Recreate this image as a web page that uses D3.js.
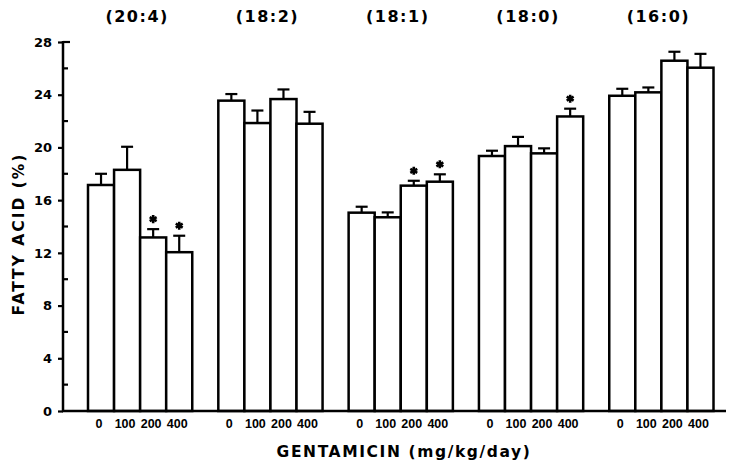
<!DOCTYPE html>
<html>
<head>
<meta charset="utf-8">
<script src="https://cdn.jsdelivr.net/npm/d3@7"></script>
<style>
  body { margin: 0; background: #fff; }
  svg text { font-family: "DejaVu Sans", "Liberation Sans", sans-serif; font-weight: bold; fill: #000; }
</style>
</head>
<body>
<div class="myData"></div>
<script>
// fatty acid groups and gentamicin doses
var groups = ['(20:4)', '(18:2)', '(18:1)', '(18:0)', '(16:0)'];
var doses = ['0', '100', '200', '400'];
// mean % per group, one value per dose
var means = [
  [17.15, 18.3, 13.17, 12.05],
  [23.55, 21.85, 23.67, 21.8],
  [15.05, 14.7, 17.1, 17.4],
  [19.35, 20.1, 19.55, 22.35],
  [23.92, 24.18, 26.58, 26.05]
];
// upper error bar value
var errTop = [
  [18.0, 20.05, 13.8, 13.3],
  [24.05, 22.8, 24.4, 22.7],
  [15.5, 15.07, 17.47, 17.96],
  [19.75, 20.8, 19.93, 22.94],
  [24.45, 24.55, 27.26, 27.1]
];
// significant (asterisk)
var signif = [
  [0, 0, 1, 1],
  [0, 0, 0, 0],
  [0, 0, 1, 1],
  [0, 0, 0, 1],
  [0, 0, 0, 0]
];
var yTicks = [0, 4, 8, 12, 16, 20, 24, 28];
var yMinor = [2, 6, 10, 14, 18, 22, 26];

var w = 731, h = 466;
var axisX = 63, baseY = 411, topY = 42;

var svg = d3.select('.myData').append('svg')
  .attr('width', w).attr('height', h);

var y = d3.scaleLinear().domain([0, 28]).range([baseY, topY]);
var x0 = d3.scaleBand().domain(groups).range([88, 713.5]).paddingInner(0.2).paddingOuter(0);
var x1 = d3.scaleBand().domain(doses).range([0, x0.bandwidth()]);

var rows = [];
groups.forEach(function(g, i) {
  doses.forEach(function(d, j) {
    rows.push({ g: g, d: d, v: means[i][j], e: errTop[i][j], s: signif[i][j] });
  });
});

// bars
svg.selectAll('rect.bar').data(rows).enter().append('rect')
  .attr('class', 'bar')
  .attr('x', function(d) { return x0(d.g) + x1(d.d); })
  .attr('y', function(d) { return y(d.v); })
  .attr('width', x1.bandwidth())
  .attr('height', function(d) { return y(0) - y(d.v); })
  .attr('fill', '#fff').attr('stroke', '#000').attr('stroke-width', 2.5);

// error bars
var eb = svg.selectAll('g.err').data(rows).enter().append('g').attr('class', 'err')
  .attr('transform', function(d) { return 'translate(' + (x0(d.g) + x1(d.d) + x1.bandwidth() / 2) + ',0)'; });
eb.append('line')
  .attr('x1', 0).attr('x2', 0)
  .attr('y1', function(d) { return y(d.v); })
  .attr('y2', function(d) { return y(d.e); })
  .attr('stroke', '#000').attr('stroke-width', 2.2);
eb.append('line')
  .attr('x1', -6).attr('x2', 6)
  .attr('y1', function(d) { return y(d.e); })
  .attr('y2', function(d) { return y(d.e); })
  .attr('stroke', '#000').attr('stroke-width', 2.2);

// asterisks
svg.selectAll('path.star').data(rows.filter(function(d) { return d.s; })).enter().append('path')
  .attr('class', 'star')
  .attr('d', d3.symbol().type(d3.symbolAsterisk).size(45))
  .attr('transform', function(d) {
    return 'translate(' + (x0(d.g) + x1(d.d) + x1.bandwidth() / 2) + ',' + (y(d.e) - 10) + ')';
  })
  .attr('fill', 'none').attr('stroke', '#000').attr('stroke-width', 2.6);

// y axis
var yAxis = svg.append('g').attr('transform', 'translate(' + axisX + ',0)')
  .call(d3.axisLeft(y).tickValues(yTicks).tickSize(5).tickPadding(6));
yAxis.select('.domain').remove();
yAxis.selectAll('line').attr('stroke-width', 2.2);
yAxis.selectAll('text').attr('font-size', 13);
svg.append('line').attr('x1', axisX).attr('x2', axisX).attr('y1', topY - 1).attr('y2', baseY + 1)
  .attr('stroke', '#000').attr('stroke-width', 2.5);
svg.append('line').attr('x1', axisX).attr('x2', axisX + 7).attr('y1', topY).attr('y2', topY)
  .attr('stroke', '#000').attr('stroke-width', 2.2);
svg.selectAll('line.minor').data(yMinor).enter().append('line')
  .attr('class', 'minor')
  .attr('x1', axisX).attr('x2', axisX + 5)
  .attr('y1', function(d) { return y(d); }).attr('y2', function(d) { return y(d); })
  .attr('stroke', '#000').attr('stroke-width', 2.2);

// x baseline
svg.append('line').attr('x1', axisX - 1).attr('x2', 726).attr('y1', baseY).attr('y2', baseY)
  .attr('stroke', '#000').attr('stroke-width', 2.5);

// dose labels
svg.selectAll('text.dose').data(rows).enter().append('text')
  .attr('class', 'dose')
  .attr('x', function(d) { return x0(d.g) + x1(d.d) + x1.bandwidth() / 2 - 2; })
  .attr('y', 428)
  .attr('text-anchor', 'middle')
  .attr('font-size', 12.5)
  .style('font-family', '"Liberation Sans", Arial, sans-serif')
  .text(function(d) { return d.d; });

// group labels
svg.selectAll('text.grp').data(groups).enter().append('text')
  .attr('class', 'grp')
  .attr('x', function(d) { return x0(d) + x0.bandwidth() / 2 - 3; })
  .attr('y', 22)
  .attr('text-anchor', 'middle')
  .attr('font-size', 16)
  .attr('letter-spacing', 1.5)
  .text(function(d) { return d; });

// axis titles
svg.append('text')
  .attr('x', 404).attr('y', 457)
  .attr('text-anchor', 'middle')
  .attr('font-size', 15.5)
  .attr('letter-spacing', 1.6)
  .text('GENTAMICIN (mg/kg/day)');
svg.append('text')
  .attr('transform', 'translate(24,234) rotate(-90)')
  .attr('text-anchor', 'middle')
  .attr('font-size', 15.5)
  .attr('letter-spacing', 2)
  .text('FATTY ACID (%)');
</script>
</body>
</html>
